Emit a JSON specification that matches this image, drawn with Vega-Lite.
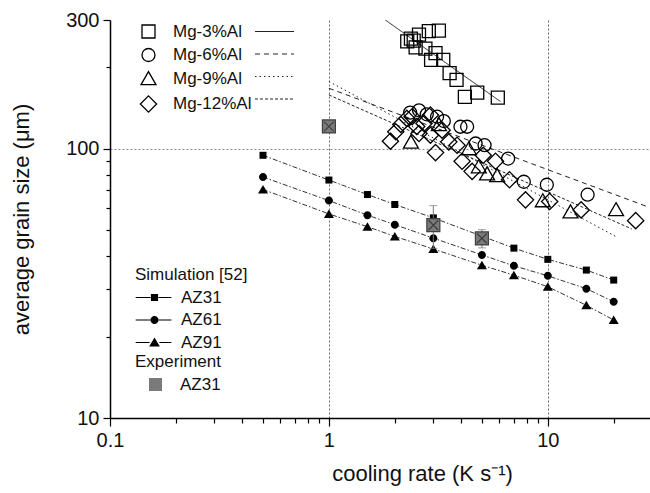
{
  "$schema": "https://vega.github.io/schema/vega-lite/v6.json",
  "width": 540,
  "height": 398,
  "autosize": {"type": "none"},
  "padding": {"left": 110, "top": 20, "right": 0, "bottom": 75},
  "background": "white",
  "config": {
    "font": "Liberation Sans",
    "view": {"stroke": null},
    "legend": {
      "labelFont": "Liberation Sans",
      "titleFont": "Liberation Sans",
      "labelFontSize": 17,
      "titleFontSize": 17,
      "titleFontWeight": "normal",
      "labelColor": "#111",
      "titleColor": "#111",
      "padding": 0,
      "rowPadding": 4.5,
      "titlePadding": 5
    }
  },
  "datasets": {
    "mg": [
      {"rate": 3.18, "size": 274, "alloy": "Mg-3%Al"},
      {"rate": 2.86, "size": 272.6, "alloy": "Mg-3%Al"},
      {"rate": 2.58, "size": 264.8, "alloy": "Mg-3%Al"},
      {"rate": 2.28, "size": 250, "alloy": "Mg-3%Al"},
      {"rate": 2.44, "size": 251.4, "alloy": "Mg-3%Al"},
      {"rate": 2.37, "size": 256, "alloy": "Mg-3%Al"},
      {"rate": 2.49, "size": 237.5, "alloy": "Mg-3%Al"},
      {"rate": 2.76, "size": 234.7, "alloy": "Mg-3%Al"},
      {"rate": 3.07, "size": 226.2, "alloy": "Mg-3%Al"},
      {"rate": 2.93, "size": 213.5, "alloy": "Mg-3%Al"},
      {"rate": 3.33, "size": 213.5, "alloy": "Mg-3%Al"},
      {"rate": 3.56, "size": 190.5, "alloy": "Mg-3%Al"},
      {"rate": 3.83, "size": 179.8, "alloy": "Mg-3%Al"},
      {"rate": 4.18, "size": 155.4, "alloy": "Mg-3%Al"},
      {"rate": 4.76, "size": 161.4, "alloy": "Mg-3%Al"},
      {"rate": 5.91, "size": 154.6, "alloy": "Mg-3%Al"},
      {"rate": 2.35, "size": 136, "alloy": "Mg-6%Al"},
      {"rate": 2.58, "size": 138.7, "alloy": "Mg-6%Al"},
      {"rate": 2.8, "size": 134, "alloy": "Mg-6%Al"},
      {"rate": 3.12, "size": 131.3, "alloy": "Mg-6%Al"},
      {"rate": 3.35, "size": 126.5, "alloy": "Mg-6%Al"},
      {"rate": 3.99, "size": 120.5, "alloy": "Mg-6%Al"},
      {"rate": 4.28, "size": 120.5, "alloy": "Mg-6%Al"},
      {"rate": 4.68, "size": 104.4, "alloy": "Mg-6%Al"},
      {"rate": 5.14, "size": 102.9, "alloy": "Mg-6%Al"},
      {"rate": 6.59, "size": 91.8, "alloy": "Mg-6%Al"},
      {"rate": 7.77, "size": 75.3, "alloy": "Mg-6%Al"},
      {"rate": 9.9, "size": 73.4, "alloy": "Mg-6%Al"},
      {"rate": 15.2, "size": 67.4, "alloy": "Mg-6%Al"},
      {"rate": 2.37, "size": 105.8, "alloy": "Mg-9%Al"},
      {"rate": 3.18, "size": 122.9, "alloy": "Mg-9%Al"},
      {"rate": 4.36, "size": 100, "alloy": "Mg-9%Al"},
      {"rate": 4.84, "size": 85.7, "alloy": "Mg-9%Al"},
      {"rate": 5.28, "size": 80.7, "alloy": "Mg-9%Al"},
      {"rate": 5.87, "size": 79.5, "alloy": "Mg-9%Al"},
      {"rate": 9.49, "size": 64.1, "alloy": "Mg-9%Al"},
      {"rate": 12.7, "size": 58.3, "alloy": "Mg-9%Al"},
      {"rate": 20.5, "size": 59.4, "alloy": "Mg-9%Al"},
      {"rate": 1.91, "size": 106.5, "alloy": "Mg-12%Al"},
      {"rate": 2.02, "size": 115.4, "alloy": "Mg-12%Al"},
      {"rate": 2.13, "size": 122.9, "alloy": "Mg-12%Al"},
      {"rate": 2.27, "size": 129.4, "alloy": "Mg-12%Al"},
      {"rate": 2.4, "size": 131.3, "alloy": "Mg-12%Al"},
      {"rate": 2.52, "size": 120.8, "alloy": "Mg-12%Al"},
      {"rate": 2.58, "size": 113.7, "alloy": "Mg-12%Al"},
      {"rate": 2.72, "size": 124, "alloy": "Mg-12%Al"},
      {"rate": 2.91, "size": 133.2, "alloy": "Mg-12%Al"},
      {"rate": 2.91, "size": 112.1, "alloy": "Mg-12%Al"},
      {"rate": 3.07, "size": 96.6, "alloy": "Mg-12%Al"},
      {"rate": 3.29, "size": 117, "alloy": "Mg-12%Al"},
      {"rate": 3.53, "size": 105.9, "alloy": "Mg-12%Al"},
      {"rate": 3.85, "size": 102.9, "alloy": "Mg-12%Al"},
      {"rate": 4.06, "size": 89.7, "alloy": "Mg-12%Al"},
      {"rate": 4.51, "size": 82.3, "alloy": "Mg-12%Al"},
      {"rate": 5.07, "size": 94.4, "alloy": "Mg-12%Al"},
      {"rate": 5.77, "size": 89.7, "alloy": "Mg-12%Al"},
      {"rate": 6.68, "size": 76.6, "alloy": "Mg-12%Al"},
      {"rate": 7.91, "size": 64.5, "alloy": "Mg-12%Al"},
      {"rate": 10.2, "size": 63.6, "alloy": "Mg-12%Al"},
      {"rate": 14.2, "size": 59.2, "alloy": "Mg-12%Al"},
      {"rate": 25.2, "size": 54, "alloy": "Mg-12%Al"}
    ],
    "fits": [
      {"rate": 1.81, "size": 300, "fit": "Mg-3%Al"},
      {"rate": 6.08, "size": 149.4, "fit": "Mg-3%Al"},
      {"rate": 1, "size": 167.4, "fit": "Mg-6%Al"},
      {"rate": 28.9, "size": 60.6, "fit": "Mg-6%Al"},
      {"rate": 1, "size": 177.4, "fit": "Mg-9%Al"},
      {"rate": 20.4, "size": 47.2, "fit": "Mg-9%Al"},
      {"rate": 1, "size": 158.1, "fit": "Mg-12%Al"},
      {"rate": 24.2, "size": 50.3, "fit": "Mg-12%Al"}
    ],
    "sim": [
      {"rate": 0.5, "size": 94.4, "model": "AZ31"},
      {"rate": 1, "size": 76.4, "model": "AZ31"},
      {"rate": 1.5, "size": 67.5, "model": "AZ31"},
      {"rate": 2, "size": 62, "model": "AZ31"},
      {"rate": 3, "size": 55.3, "model": "AZ31"},
      {"rate": 5, "size": 47.3, "model": "AZ31"},
      {"rate": 7, "size": 42.7, "model": "AZ31"},
      {"rate": 10, "size": 38.8, "model": "AZ31"},
      {"rate": 15, "size": 35.4, "model": "AZ31"},
      {"rate": 20, "size": 32.5, "model": "AZ31"},
      {"rate": 0.5, "size": 78.4, "model": "AZ61"},
      {"rate": 1, "size": 64.1, "model": "AZ61"},
      {"rate": 1.5, "size": 56.6, "model": "AZ61"},
      {"rate": 2, "size": 52.2, "model": "AZ61"},
      {"rate": 3, "size": 46.5, "model": "AZ61"},
      {"rate": 5, "size": 40.3, "model": "AZ61"},
      {"rate": 7, "size": 36.7, "model": "AZ61"},
      {"rate": 10, "size": 33.7, "model": "AZ61"},
      {"rate": 15, "size": 30.2, "model": "AZ61"},
      {"rate": 20, "size": 27.0, "model": "AZ61"},
      {"rate": 0.5, "size": 70.5, "model": "AZ91"},
      {"rate": 1, "size": 57.2, "model": "AZ91"},
      {"rate": 1.5, "size": 51.3, "model": "AZ91"},
      {"rate": 2, "size": 47.2, "model": "AZ91"},
      {"rate": 3, "size": 42.4, "model": "AZ91"},
      {"rate": 5, "size": 36.9, "model": "AZ91"},
      {"rate": 7, "size": 33.9, "model": "AZ91"},
      {"rate": 10, "size": 30.7, "model": "AZ91"},
      {"rate": 15, "size": 26.2, "model": "AZ91"},
      {"rate": 20, "size": 23.1, "model": "AZ91"}
    ],
    "exp": [
      {"rate": 1, "size": 120.8, "sample": "AZ31"},
      {"rate": 3, "size": 52, "lo": 42.6, "hi": 61.4, "sample": "AZ31"},
      {"rate": 5, "size": 46.4, "lo": 42.8, "hi": 50, "sample": "AZ31"}
    ]
  },
  "encoding": {
    "x": {
      "field": "rate",
      "type": "quantitative",
      "title": "cooling rate (K s⁻¹)",
      "scale": {"type": "log", "domain": [0.1, 29.3], "nice": false},
      "axis": {
        "values": [0.1, 0.2, 0.3, 0.4, 0.5, 0.6, 0.7, 0.8, 0.9, 1, 2, 3, 4, 5, 6, 7, 8, 9, 10, 20],
        "format": "~g",
        "labelExpr": "datum.value == 0.1 || datum.value == 1 || datum.value == 10 ? datum.label : ''",
        "tickSize": {"condition": {"test": "datum.value == 0.1 || datum.value == 1 || datum.value == 10", "value": 8}, "value": 5},
        "grid": true,
        "gridOpacity": {"condition": {"test": "datum.value == 1 || datum.value == 10", "value": 1}, "value": 0},
        "gridDash": [2, 2],
        "gridColor": "#666",
        "gridWidth": 1,
        "domainColor": "#000",
        "domainWidth": 1.5,
        "tickColor": "#000",
        "tickWidth": 1.2,
        "labelFontSize": 20,
        "labelColor": "#111",
        "labelPadding": 4,
        "labelFlush": false,
        "labelOverlap": false,
        "titleFontSize": 22,
        "titleFontWeight": "normal",
        "titleColor": "#111",
        "titlePadding": 13,
        "titleX": 312
      }
    },
    "y": {
      "field": "size",
      "type": "quantitative",
      "title": "average grain size (μm)",
      "scale": {"type": "log", "domain": [10, 300], "nice": false},
      "axis": {
        "values": [10, 20, 30, 40, 50, 60, 70, 80, 90, 100, 200, 300],
        "format": "~g",
        "labelExpr": "datum.value == 10 || datum.value == 100 || datum.value == 300 ? datum.label : ''",
        "tickSize": {"condition": {"test": "datum.value == 10 || datum.value == 100 || datum.value == 300", "value": 7}, "value": 4},
        "grid": true,
        "gridOpacity": {"condition": {"test": "datum.value == 100", "value": 1}, "value": 0},
        "gridDash": [2, 2],
        "gridColor": "#888",
        "gridWidth": 1,
        "domainColor": "#000",
        "domainWidth": 1.5,
        "tickColor": "#000",
        "tickWidth": 1.2,
        "labelFontSize": 20,
        "labelColor": "#111",
        "labelPadding": 4,
        "labelFlush": false,
        "labelOverlap": false,
        "titleFontSize": 22,
        "titleFontWeight": "normal",
        "titleColor": "#111",
        "titlePadding": 32
      }
    }
  },
  "layer": [
    {
      "data": {"name": "fits"},
      "mark": {"type": "line", "stroke": "#222", "strokeWidth": 1, "clip": true},
      "encoding": {
        "strokeDash": {
          "field": "fit",
          "type": "nominal",
          "scale": {"domain": ["Mg-3%Al", "Mg-6%Al", "Mg-9%Al", "Mg-12%Al"], "range": [[1, 0], [5, 4], [1.5, 3], [3, 2]]},
          "legend": {
            "orient": "none", "legendX": 156, "legendY": 3, "title": null,
            "symbolType": "M-3,0L3,0", "symbolSize": 169, "symbolStrokeColor": "#222", "symbolStrokeWidth": 1,
            "labelOpacity": 0
          }
        }
      }
    },
    {
      "data": {"name": "mg"},
      "mark": {"type": "point", "filled": false, "stroke": "#000", "strokeWidth": 1.3, "opacity": 1, "size": 169},
      "encoding": {
        "shape": {
          "field": "alloy",
          "type": "nominal",
          "scale": {
            "domain": ["Mg-3%Al", "Mg-6%Al", "Mg-9%Al", "Mg-12%Al"],
            "range": ["square", "circle", "M0,-1.05L1.15,0.95L-1.15,0.95Z", "M0,-1.25L1.25,0L0,1.25L-1.25,0Z"]
          },
          "legend": {
            "orient": "none", "legendX": 30, "legendY": 3, "title": null,
            "symbolSize": 169, "symbolStrokeColor": "#000", "symbolStrokeWidth": 1.3, "symbolFillColor": "transparent",
            "labelOffset": 16
          }
        }
      }
    },
    {
      "data": {"name": "sim"},
      "mark": {"type": "line", "stroke": "#333", "strokeWidth": 1, "strokeDash": [5, 2, 1.5, 2]},
      "encoding": {"detail": {"field": "model", "type": "nominal"}}
    },
    {
      "data": {"name": "sim"},
      "mark": {"type": "point", "filled": true, "color": "#000", "opacity": 1, "size": 100},
      "encoding": {
        "shape": {
          "field": "model",
          "type": "nominal",
          "scale": {
            "domain": ["AZ31", "AZ61", "AZ91"],
            "range": ["M-0.7,-0.7L0.7,-0.7L0.7,0.7L-0.7,0.7Z", "M-0.8,0A0.8,0.8 0 1,0 0.8,0A0.8,0.8 0 1,0 -0.8,0Z", "M0,-0.9L1,0.8L-1,0.8Z"]
          },
          "legend": null
        }
      }
    },
    {
      "data": {"name": "sim"},
      "mark": {"type": "point", "filled": true, "fill": "#000", "opacity": 0, "size": 169},
      "encoding": {
        "shape": {
          "field": "model",
          "type": "nominal",
          "scale": {
            "domain": ["AZ31", "AZ61", "AZ91"],
            "range": [
              "M-2.9,-0.08L-0.6,-0.08L-0.6,0.08L-2.9,0.08Z M0.6,-0.08L2.6,-0.08L2.6,0.08L0.6,0.08Z M-0.55,-0.55L0.55,-0.55L0.55,0.55L-0.55,0.55Z",
              "M-2.9,-0.08L-0.6,-0.08L-0.6,0.08L-2.9,0.08Z M0.6,-0.08L2.6,-0.08L2.6,0.08L0.6,0.08Z M-0.62,0A0.62,0.62 0 1,0 0.62,0A0.62,0.62 0 1,0 -0.62,0Z",
              "M-2.9,-0.08L-0.75,-0.08L-0.75,0.08L-2.9,0.08Z M0.75,-0.08L2.6,-0.08L2.6,0.08L0.75,0.08Z M0,-0.78L0.82,0.6L-0.82,0.6Z"
            ]
          },
          "legend": {
            "orient": "none", "legendX": 25, "legendY": 247, "title": "Simulation [52]",
            "symbolSize": 169, "symbolOffset": 11, "labelOffset": 18, "symbolOpacity": 1,
            "symbolFillColor": "#000"
          }
        }
      }
    },
    {
      "data": {"name": "exp"},
      "mark": {"type": "errorbar", "ticks": {"size": 8}, "color": "#777"},
      "encoding": {
        "y": {"field": "lo", "type": "quantitative", "title": "average grain size (μm)"},
        "y2": {"field": "hi"}
      }
    },
    {
      "data": {"name": "exp"},
      "mark": {"type": "point", "filled": true, "fill": "#7a7a7a", "stroke": "#3f3f3f", "strokeWidth": 1.2, "size": 169, "opacity": 1},
      "encoding": {
        "shape": {
          "field": "sample",
          "type": "nominal",
          "scale": {"domain": ["AZ31"], "range": ["M-1,-1L1,-1L1,1L-1,1Z M-0.75,-0.75L0.75,0.75 M0.75,-0.75L-0.75,0.75"]},
          "legend": {
            "orient": "none", "legendX": 25, "legendY": 334, "title": "Experiment",
            "symbolSize": 169, "symbolOffset": 12, "labelOffset": 16,
            "symbolFillColor": "#7a7a7a", "symbolStrokeColor": "#3f3f3f", "symbolStrokeWidth": 1.2
          }
        }
      }
    }
  ],
  "resolve": {"scale": {"shape": "independent"}}
}
